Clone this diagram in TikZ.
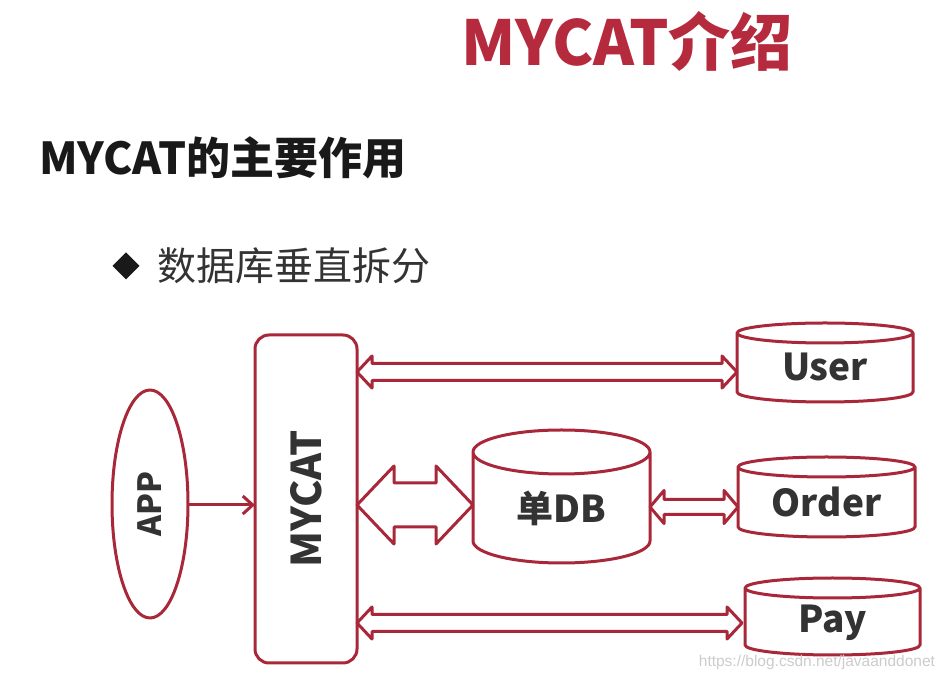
\documentclass[tikz,border=0pt]{standalone}
\usepackage{fontspec}
\setmainfont{Noto Sans CJK SC}
\newfontfamily\wmfont{Liberation Sans}
\usetikzlibrary{shapes.geometric,arrows.meta,calc}
\definecolor{dred}{HTML}{A8283A}
\definecolor{tred}{HTML}{B52A3D}
\definecolor{tgray}{HTML}{333333}
\tikzset{
  x=1pt,y=1pt,
  redline/.style={draw=dred,line width=3pt,line join=round},
  lbl/.style={font=\bfseries,text=tgray,inner sep=0pt},
  box/.style={inner sep=0pt,outer sep=0pt},
}
\newcommand\hdarrow[5]{%
  \draw[redline,fill=white] let \p1=(#1), \p2=(#2) in
    (\x1,\y1) -- (\x1+#5,\y1+#4) -- (\x1+#5,\y1+#3) -- (\x2-#5,\y1+#3) -- (\x2-#5,\y1+#4)
    -- (\x2,\y1) -- (\x2-#5,\y1-#4) -- (\x2-#5,\y1-#3) -- (\x1+#5,\y1-#3) -- (\x1+#5,\y1-#4) -- cycle;}
\newcommand\cyl[2]{%
  \draw[redline] let \p1=(#1.north west), \p2=(#1.south east), \n1={(\x2-\x1)/2} in
    (\x1,\y1-#2pt) -- (\x1,\y2+#2pt) arc[start angle=180,end angle=360,x radius=\n1,y radius=#2pt]
    -- (\x2,\y1-#2pt) arc[start angle=0,end angle=180,x radius=\n1,y radius=#2pt] -- cycle
    (\x1,\y1-#2pt) arc[start angle=180,end angle=360,x radius=\n1,y radius=#2pt];}
\begin{document}
\begin{tikzpicture}
\useasboundingbox[fill=white] (0,0) rectangle (944,679);
% headings
\node[box,font=\fontsize{62}{66}\selectfont\bfseries,text=tred] (title) at (627,638) {MYCAT介绍};
\node[box,font=\fontsize{44}{48}\selectfont\bfseries,text=black!90,anchor=west] (sub) at (39,521) {MYCAT的主要作用};
\node[box,diamond,fill=black!90,minimum width=27pt,minimum height=27pt] (bul) at (126,413) {};
\node[box,font=\fontsize{39}{42}\selectfont,text=tgray,anchor=west] (item) at (157,413) {数据库垂直拆分};
% diagram nodes
\node[box,ellipse,redline,minimum width=76pt,minimum height=228pt] (app) at (150,175) {};
\node[lbl,rotate=90,font=\fontsize{32}{36}\selectfont\bfseries] (appt) at (app) {APP};
\node[box,rectangle,rounded corners=14pt,redline,minimum width=102pt,minimum height=328pt] (mycat) at (306,180) {};
\node[lbl,rotate=90,font=\fontsize{41}{44}\selectfont\bfseries] (mycatt) at (mycat) {MYCAT};
\node[box,minimum width=176pt,minimum height=79pt] (user) at (825,316.5) {};
\node[box,minimum width=177pt,minimum height=80pt] (order) at (826.5,182) {};
\node[box,minimum width=175pt,minimum height=77pt] (pay) at (832.5,62.5) {};
\node[box,minimum width=177pt,minimum height=133pt] (db) at (561.5,182.5) {};
\cyl{user}{10}
\cyl{order}{10}
\cyl{pay}{10}
\cyl{db}{22}
\node[lbl,font=\fontsize{37}{40}\selectfont\bfseries] (usert) at ($(user)+(0,-4.5)$) {User};
\node[lbl,font=\fontsize{37}{40}\selectfont\bfseries] (ordert) at ($(order)+(0,-5)$) {Order};
\node[lbl,font=\fontsize{37}{40}\selectfont\bfseries] (payt) at ($(pay)+(0,-6.5)$) {Pay};
\node[lbl,font=\fontsize{37}{40}\selectfont\bfseries] (dbt) at ($(db)+(0,-11.5)$) {单DB};
% connectors
\coordinate (a1) at (app.east |- 0,174);
\coordinate (a2) at (mycat.west |- 0,174);
\draw[redline,-{Straight Barb[length=10pt,width=18pt]}] (a1) -- (a2);
\coordinate (b1) at (mycat.east |- 0,174);
\coordinate (b2) at (db.west |- 0,174);
\hdarrow{b1}{b2}{22pt}{39pt}{37pt}
\coordinate (u1) at (mycat.east |- 0,307);
\coordinate (u2) at (user.west |- 0,307);
\hdarrow{u1}{u2}{8.5pt}{16pt}{15pt}
\coordinate (p1) at (mycat.east |- 0,56);
\coordinate (p2) at ($(pay.west |- 0,56)+(-3,0)$);
\hdarrow{p1}{p2}{8.5pt}{16pt}{15pt}
\coordinate (o1) at (db.east |- 0,172);
\coordinate (o2) at (order.west |- 0,172);
\hdarrow{o1}{o2}{7.5pt}{16.5pt}{14pt}
% watermark
\node[box,font=\wmfont\fontsize{15.5}{17}\selectfont,text=black!20,anchor=east] (wm) at (935,17) {https://blog.csdn.net/javaanddonet};
\end{tikzpicture}
\end{document}
